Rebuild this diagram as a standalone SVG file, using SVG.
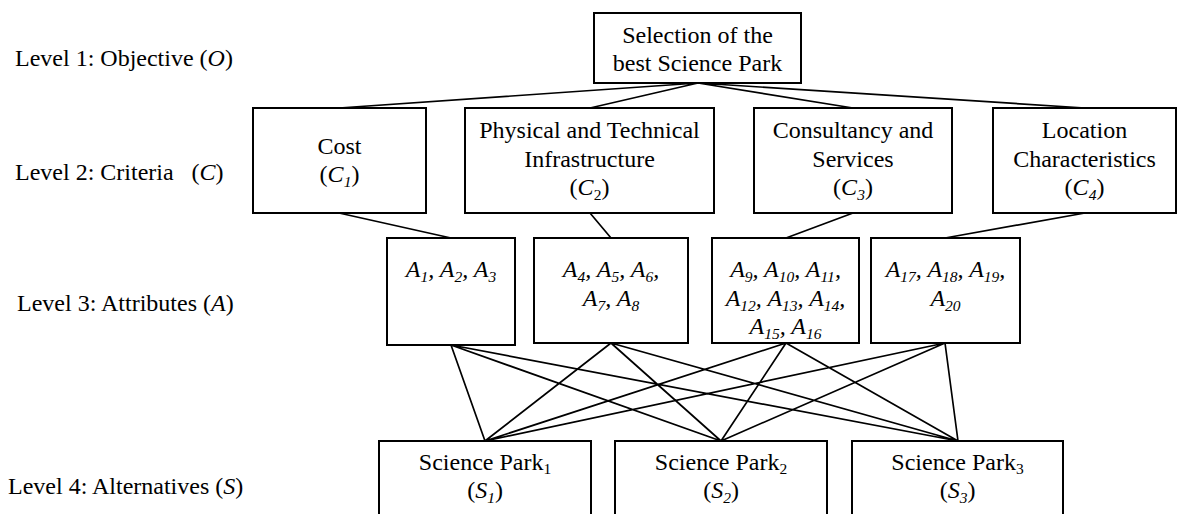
<svg xmlns="http://www.w3.org/2000/svg" width="1185" height="514" viewBox="0 0 1185 514" font-family="'Liberation Serif', 'Times New Roman', serif">
<style>
text{font-family:"Liberation Serif","Times New Roman",serif;font-size:24px;fill:#000}
.c{text-anchor:middle}
.i{font-style:italic}
.s{font-size:15.5px}
.box{fill:#fff;stroke:#000;stroke-width:2}
.ln{stroke:#000;stroke-width:1.7;fill:none}
</style>
<rect width="1185" height="514" fill="#fff"/>
<g id="connectors">
<path class="ln" d="M698,83 L339,108 M698,83 L590,108 M698,83 L853,108 M698,83 L1085,108"/>
<path class="ln" d="M339,213 L451,238 M590,213 L611,238 M853,213 L786,238 M1085,213 L945,238"/>
<path class="ln" d="M451,345 L485,441 M451,345 L721,441 M451,345 L958,441 M611,343 L485,441 M611,343 L721,441 M611,343 L958,441 M786,343 L485,441 M786,343 L721,441 M786,343 L958,441 M945,343 L485,441 M945,343 L721,441 M945,343 L958,441"/>
</g>
<g id="labels">
<text x="15" y="66">Level 1: Objective (<tspan class="i">O</tspan>)</text>
<text x="15" y="180" xml:space="preserve">Level 2: Criteria   (<tspan class="i">C</tspan>)</text>
<text x="17" y="311">Level 3: Attributes (<tspan class="i">A</tspan>)</text>
<text x="8" y="494">Level 4: Alternatives (<tspan class="i">S</tspan>)</text>
</g>
<g id="objective">
<rect class="box" x="594" y="13" width="207" height="70"/>
<text class="c" x="697.5" y="43">Selection of the</text>
<text class="c" x="697.5" y="71">best Science Park</text>
</g>
<g id="c1">
<rect class="box" x="253" y="108" width="173" height="105"/>
<text class="c" x="339.5" y="154">Cost</text>
<text class="c" x="339.5" y="182">(<tspan class="i">C</tspan><tspan class="i s" dy="5">1</tspan><tspan dy="-5">)</tspan></text>
</g>
<g id="c2">
<rect class="box" x="465" y="108" width="249" height="105"/>
<text class="c" x="589.5" y="138">Physical and Technical</text>
<text class="c" x="589.5" y="167">Infrastructure</text>
<text class="c" x="589.5" y="195">(<tspan class="i">C</tspan><tspan class="s" dy="5">2</tspan><tspan dy="-5">)</tspan></text>
</g>
<g id="c3">
<rect class="box" x="754" y="108" width="198" height="105"/>
<text class="c" x="853" y="138">Consultancy and</text>
<text class="c" x="853" y="167">Services</text>
<text class="c" x="853" y="195">(<tspan class="i">C</tspan><tspan class="i s" dy="5">3</tspan><tspan dy="-5">)</tspan></text>
</g>
<g id="c4">
<rect class="box" x="993" y="108" width="183" height="105"/>
<text class="c" x="1084.5" y="138">Location</text>
<text class="c" x="1084.5" y="167">Characteristics</text>
<text class="c" x="1084.5" y="195">(<tspan class="i">C</tspan><tspan class="i s" dy="5">4</tspan><tspan dy="-5">)</tspan></text>
</g>
<g id="a1">
<rect class="box" x="387" y="238" width="128" height="107"/>
<text class="c i" x="451" y="277">A<tspan class="s" dy="5">1</tspan><tspan dy="-5">, A</tspan><tspan class="s" dy="5">2</tspan><tspan dy="-5">, A</tspan><tspan class="s" dy="5">3</tspan></text>
</g>
<g id="a2">
<rect class="box" x="534" y="238" width="154" height="105"/>
<text class="c i" x="611" y="277">A<tspan class="s" dy="5">4</tspan><tspan dy="-5">, A</tspan><tspan class="s" dy="5">5</tspan><tspan dy="-5">, A</tspan><tspan class="s" dy="5">6</tspan><tspan dy="-5">,</tspan></text>
<text class="c i" x="611" y="306">A<tspan class="s" dy="5">7</tspan><tspan dy="-5">, A</tspan><tspan class="s" dy="5">8</tspan></text>
</g>
<g id="a3">
<rect class="box" x="712" y="238" width="147" height="105"/>
<text class="c i" x="785.5" y="277">A<tspan class="s" dy="5">9</tspan><tspan dy="-5">, A</tspan><tspan class="s" dy="5">10</tspan><tspan dy="-5">, A</tspan><tspan class="s" dy="5">11</tspan><tspan dy="-5">,</tspan></text>
<text class="c i" x="785.5" y="306">A<tspan class="s" dy="5">12</tspan><tspan dy="-5">, A</tspan><tspan class="s" dy="5">13</tspan><tspan dy="-5">, A</tspan><tspan class="s" dy="5">14</tspan><tspan dy="-5">,</tspan></text>
<text class="c i" x="785.5" y="334">A<tspan class="s" dy="5">15</tspan><tspan dy="-5">, A</tspan><tspan class="s" dy="5">16</tspan></text>
</g>
<g id="a4">
<rect class="box" x="871" y="238" width="149" height="105"/>
<text class="c i" x="945.5" y="277">A<tspan class="s" dy="5">17</tspan><tspan dy="-5">, A</tspan><tspan class="s" dy="5">18</tspan><tspan dy="-5">, A</tspan><tspan class="s" dy="5">19</tspan><tspan dy="-5">,</tspan></text>
<text class="c i" x="945.5" y="306">A<tspan class="s" dy="5">20</tspan></text>
</g>
<g id="s1">
<rect class="box" x="379" y="441" width="212" height="90"/>
<text class="c" x="485" y="470">Science Park<tspan class="s" dy="4">1</tspan></text>
<text class="c" x="485" y="498">(<tspan class="i">S</tspan><tspan class="i s" dy="5">1</tspan><tspan dy="-5">)</tspan></text>
</g>
<g id="s2">
<rect class="box" x="615" y="441" width="212" height="90"/>
<text class="c" x="721" y="470">Science Park<tspan class="s" dy="4">2</tspan></text>
<text class="c" x="721" y="498">(<tspan class="i">S</tspan><tspan class="i s" dy="5">2</tspan><tspan dy="-5">)</tspan></text>
</g>
<g id="s3">
<rect class="box" x="852" y="441" width="211" height="90"/>
<text class="c" x="957.5" y="470">Science Park<tspan class="s" dy="4">3</tspan></text>
<text class="c" x="957.5" y="498">(<tspan class="i">S</tspan><tspan class="i s" dy="5">3</tspan><tspan dy="-5">)</tspan></text>
</g>
</svg>
